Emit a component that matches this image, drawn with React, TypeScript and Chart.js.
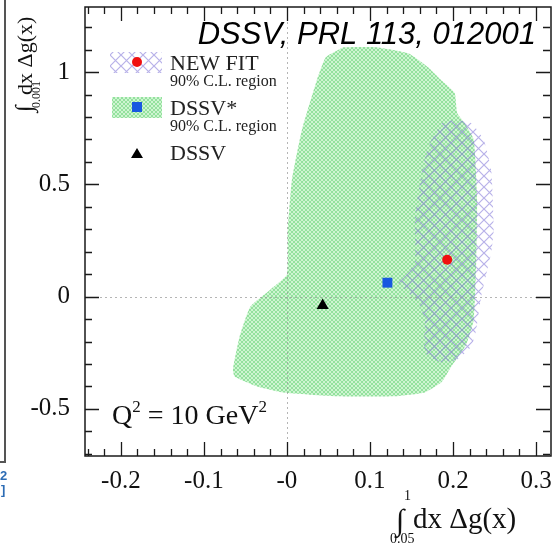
import React, { useEffect, useRef } from "react";
import { Chart, registerables } from "chart.js";

Chart.register(...registerables);

// DSSV* 90% C.L. region (green) boundary
const dssvStarRegionX = [0.068, 0.107, 0.146, 0.17, 0.186, 0.202, 0.205, 0.214, 0.225, 0.229, 0.228, 0.225, 0.216, 0.198, 0.186, 0.166, 0.13, 0.059, -0.004, -0.036, -0.063, -0.065, -0.057, -0.044, -0.02, 0.0, 0.001, 0.006, 0.018, 0.036, 0.047];
const dssvStarRegionY = [1.111, 1.111, 1.084, 1.022, 0.964, 0.907, 0.818, 0.773, 0.698, 0.431, 0.164, -0.102, -0.213, -0.311, -0.382, -0.427, -0.444, -0.444, -0.427, -0.4, -0.356, -0.324, -0.178, -0.044, 0.031, 0.098, 0.298, 0.52, 0.742, 0.964, 1.067];

// NEW FIT 90% C.L. region (hatched) boundary
const newFitRegionX = [0.186, 0.202, 0.222, 0.237, 0.246, 0.249, 0.246, 0.234, 0.228, 0.222, 0.205, 0.186, 0.166, 0.166, 0.158, 0.146, 0.134, 0.142, 0.154, 0.154, 0.157, 0.163, 0.17];
const newFitRegionY = [0.773, 0.787, 0.773, 0.698, 0.564, 0.298, 0.196, 0.0, -0.147, -0.222, -0.28, -0.293, -0.249, -0.102, -0.027, 0.018, 0.062, 0.089, 0.151, 0.342, 0.431, 0.564, 0.667];

// Central values
const newFitPoint = { x: 0.193, y: 0.164 };
const dssvStarPoint = { x: 0.121, y: 0.062 };
const dssvPoint = { x: 0.043, y: -0.04 };

// Axes
const xRange = [-0.2432, 0.3144];
const yRange = [-0.71, 1.29];
const xTickValues = [-0.2, -0.1, 0, 0.1, 0.2, 0.3];
const xTickLabels = ["-0.2", "-0.1", "-0", "0.1", "0.2", "0.3"];
const yTickValues = [-0.5, 0, 0.5, 1];
const yTickLabels = ["-0.5", "0", "0.5", "1"];
const xMinorStep = 0.02;
const yMinorStep = 0.1;

const SERIF = "'Liberation Serif', 'DejaVu Serif', serif";

function makeGreenPattern(): CanvasPattern | string {
  const c = document.createElement("canvas");
  c.width = 4;
  c.height = 4;
  const g = c.getContext("2d");
  if (!g) return "rgb(195,240,200)";
  g.fillStyle = "rgb(206,245,209)";
  g.fillRect(0, 0, 4, 4);
  g.fillStyle = "rgb(148,225,158)";
  for (let i = 0; i < 4; i++) {
    g.fillRect(i, i, 1, 1);
    g.fillRect(3 - i, i, 1, 1);
  }
  return g.createPattern(c, "repeat") || "rgb(195,240,200)";
}

function makeHatchPattern(): CanvasPattern | string {
  const s = 11;
  const c = document.createElement("canvas");
  c.width = s;
  c.height = s;
  const g = c.getContext("2d");
  if (!g) return "rgba(120,110,220,0.3)";
  g.strokeStyle = "rgba(125,115,215,0.55)";
  g.lineWidth = 1.2;
  g.beginPath();
  g.moveTo(-1, -1);
  g.lineTo(s + 1, s + 1);
  g.moveTo(-1, s + 1);
  g.lineTo(s + 1, -1);
  g.stroke();
  return g.createPattern(c, "repeat") || "rgba(120,110,220,0.3)";
}

function drawParts(
  ctx: CanvasRenderingContext2D,
  parts: { t: string; size: number; dy?: number }[],
  x: number,
  y: number
) {
  let cx = x;
  for (const p of parts) {
    ctx.font = `${p.size}px ${SERIF}`;
    ctx.fillText(p.t, cx, y + (p.dy || 0));
    cx += ctx.measureText(p.t).width;
  }
}

export default function App() {
  const ref = useRef<HTMLCanvasElement | null>(null);

  useEffect(() => {
    const canvas = ref.current;
    if (!canvas) return;
    const green = makeGreenPattern();
    const hatch = makeHatchPattern();

    const decorations = {
      id: "decorations",
      afterDatasetsDraw(chart: any) {
        const ctx: CanvasRenderingContext2D = chart.ctx;
        const a = chart.chartArea;
        const xs = chart.scales.x;
        const ys = chart.scales.y;
        ctx.save();
        ctx.strokeStyle = "rgba(150,150,150,0.7)";
        ctx.lineWidth = 1;
        ctx.setLineDash([2, 3]);
        const x0 = Math.round(xs.getPixelForValue(0)) + 0.5;
        const y0 = Math.round(ys.getPixelForValue(0)) + 0.5;
        ctx.beginPath();
        ctx.moveTo(x0, a.top);
        ctx.lineTo(x0, a.bottom);
        ctx.moveTo(a.left, y0);
        ctx.lineTo(a.right, y0);
        ctx.stroke();
        ctx.setLineDash([]);
        ctx.restore();
      },
      afterDraw(chart: any) {
        const ctx: CanvasRenderingContext2D = chart.ctx;
        const a = chart.chartArea;
        const xs = chart.scales.x;
        const ys = chart.scales.y;
        ctx.save();
        // frame
        ctx.strokeStyle = "#1a1a1a";
        ctx.lineWidth = 1.5;
        ctx.strokeRect(a.left, a.top, a.right - a.left + 3, a.bottom - a.top);
        // ticks (inward)
        ctx.lineWidth = 1.3;
        ctx.beginPath();
        const kx0 = Math.ceil(xRange[0] / xMinorStep - 1e-9);
        const kx1 = Math.floor(xRange[1] / xMinorStep + 1e-9);
        for (let k = kx0; k <= kx1; k++) {
          const px = Math.round(xs.getPixelForValue(k * xMinorStep)) + 0.5;
          const len = k % 5 === 0 ? 14 : 7;
          ctx.moveTo(px, a.bottom);
          ctx.lineTo(px, a.bottom - len);
          ctx.moveTo(px, a.top);
          ctx.lineTo(px, a.top + len);
        }
        const ky0 = Math.ceil(yRange[0] / yMinorStep - 1e-9);
        const ky1 = Math.floor(yRange[1] / yMinorStep + 1e-9);
        for (let k = ky0; k <= ky1; k++) {
          const py = Math.round(ys.getPixelForValue(k * yMinorStep)) + 0.5;
          const len = k % 5 === 0 ? 14 : 7;
          ctx.moveTo(a.left, py);
          ctx.lineTo(a.left + len, py);
          ctx.moveTo(a.right + 2, py);
          ctx.lineTo(a.right + 2 - len, py);
        }
        ctx.stroke();

        // legend
        ctx.fillStyle = hatch as any;
        ctx.fillRect(110, 52, 52, 21);
        ctx.fillStyle = green as any;
        ctx.fillRect(112, 97, 50, 21);
        ctx.fillStyle = "#f01010";
        ctx.beginPath();
        ctx.arc(137, 62, 5, 0, Math.PI * 2);
        ctx.fill();
        ctx.fillStyle = "#1858e0";
        ctx.fillRect(132, 102, 10, 10);
        ctx.fillStyle = "#000";
        ctx.beginPath();
        ctx.moveTo(137, 148);
        ctx.lineTo(143, 158);
        ctx.lineTo(131, 158);
        ctx.closePath();
        ctx.fill();
        ctx.fillStyle = "#222";
        ctx.textAlign = "left";
        ctx.textBaseline = "alphabetic";
        ctx.font = `22px ${SERIF}`;
        ctx.fillText("NEW FIT", 170, 70);
        ctx.fillText("DSSV*", 170, 115);
        ctx.fillText("DSSV", 170, 160);
        ctx.font = `16px ${SERIF}`;
        ctx.fillText("90% C.L. region", 170, 86);
        ctx.fillText("90% C.L. region", 170, 131);

        // Q^2 label
        ctx.fillStyle = "#111";
        drawParts(
          ctx,
          [
            { t: "Q", size: 28 },
            { t: "2", size: 17, dy: -12 },
            { t: " = 10 GeV", size: 28 },
            { t: "2", size: 17, dy: -12 },
          ],
          112,
          424
        );

        // x-axis title
        ctx.font = `30px ${SERIF}`;
        ctx.fillText("\u222B", 396, 530);
        ctx.font = `14px ${SERIF}`;
        ctx.fillText("1", 404, 500);
        ctx.fillText("0.05", 390, 543);
        ctx.font = `29px ${SERIF}`;
        ctx.fillText("dx \u0394g(x)", 413, 528);

        // y-axis title (rotated)
        ctx.save();
        ctx.translate(32, 112);
        ctx.rotate(-Math.PI / 2);
        ctx.font = `24px ${SERIF}`;
        ctx.fillText("\u222B", 0, 0);
        ctx.font = `22px ${SERIF}`;
        ctx.fillText("dx \u0394g(x)", 17, 0);
        ctx.font = `12px ${SERIF}`;
        ctx.fillText("0.001", 4, 8);
        ctx.restore();

        // header reference
        ctx.fillStyle = "#000";
        ctx.textAlign = "right";
        ctx.font = "italic 31px 'Liberation Sans', Arial, sans-serif";
        ctx.fillText("DSSV, PRL 113, 012001", 536, 44);

        // remnant of neighbouring panel on the left edge
        ctx.strokeStyle = "#555";
        ctx.lineWidth = 2;
        ctx.beginPath();
        ctx.moveTo(5, 0);
        ctx.lineTo(5, 462);
        ctx.lineTo(0, 462);
        ctx.stroke();
        ctx.fillStyle = "#2d6cb5";
        ctx.textAlign = "left";
        ctx.font = "bold 13px 'Liberation Sans', sans-serif";
        ctx.fillText("2", 0, 480);
        ctx.fillText("]", 1, 494);
        ctx.restore();
      },
    };

    const chart = new Chart(canvas, {
      type: "scatter",
      data: {
        datasets: [
          {
            label: "DSSV",
            data: [dssvPoint],
            pointStyle: "triangle",
            pointRadius: 7,
            backgroundColor: "#000",
            borderWidth: 0,
            order: 0,
          },
          {
            label: "DSSV*",
            data: [dssvStarPoint],
            pointStyle: "rect",
            pointRadius: 7,
            backgroundColor: "#1858e0",
            borderWidth: 0,
            order: 0,
          },
          {
            label: "NEW FIT",
            data: [newFitPoint],
            pointStyle: "circle",
            pointRadius: 5,
            backgroundColor: "#f01010",
            borderWidth: 0,
            order: 0,
          },
          {
            label: "NEW FIT 90% C.L. region",
            data: newFitRegionX.map((x, i) => ({ x, y: newFitRegionY[i] })).concat([{ x: newFitRegionX[0], y: newFitRegionY[0] }]),
            showLine: true,
            fill: "shape",
            backgroundColor: hatch as any,
            borderWidth: 0,
            borderColor: "rgba(0,0,0,0)",
            pointRadius: 0,
            tension: 0.15,
            order: 1,
          },
          {
            label: "DSSV* 90% C.L. region",
            data: dssvStarRegionX.map((x, i) => ({ x, y: dssvStarRegionY[i] })).concat([{ x: dssvStarRegionX[0], y: dssvStarRegionY[0] }]),
            showLine: true,
            fill: "shape",
            backgroundColor: green as any,
            borderWidth: 0,
            borderColor: "rgba(0,0,0,0)",
            pointRadius: 0,
            tension: 0.15,
            order: 2,
          },
        ] as any,
      },
      options: {
        animation: false,
        responsive: true,
        maintainAspectRatio: false,
        layout: { padding: { top: 7, right: 0, left: 0, bottom: 0 } },
        plugins: {
          legend: { display: false },
          tooltip: { enabled: false },
        },
        scales: {
          x: {
            type: "linear",
            min: xRange[0],
            max: xRange[1],
            border: { display: false },
            grid: { display: false, drawTicks: false },
            afterFit: (s: any) => {
              s.height = 544 - 456;
              s.paddingLeft = 0;
              s.paddingRight = 0;
            },
            afterBuildTicks: (s: any) => {
              s.ticks = xTickValues.map((v) => ({ value: v }));
            },
            ticks: {
              padding: 10,
              color: "#111",
              font: { family: SERIF, size: 25 },
              maxRotation: 0,
              autoSkip: false,
              callback: (_v: any, i: number) => xTickLabels[i],
            },
          },
          y: {
            type: "linear",
            min: yRange[0],
            max: yRange[1],
            border: { display: false },
            grid: { display: false, drawTicks: false },
            afterFit: (s: any) => {
              s.width = 85;
              s.paddingTop = 0;
              s.paddingBottom = 0;
            },
            afterBuildTicks: (s: any) => {
              s.ticks = yTickValues.map((v) => ({ value: v }));
            },
            ticks: {
              padding: 15,
              color: "#111",
              font: { family: SERIF, size: 25 },
              autoSkip: false,
              callback: (_v: any, i: number) => yTickLabels[i],
            },
          },
        },
      },
      plugins: [decorations],
    } as any);

    return () => chart.destroy();
  }, []);

  return (
    <div style={{ position: "absolute", left: 0, top: 0, width: 555, height: 544, background: "#fff" }}>
      <canvas ref={ref} />
    </div>
  );
}
